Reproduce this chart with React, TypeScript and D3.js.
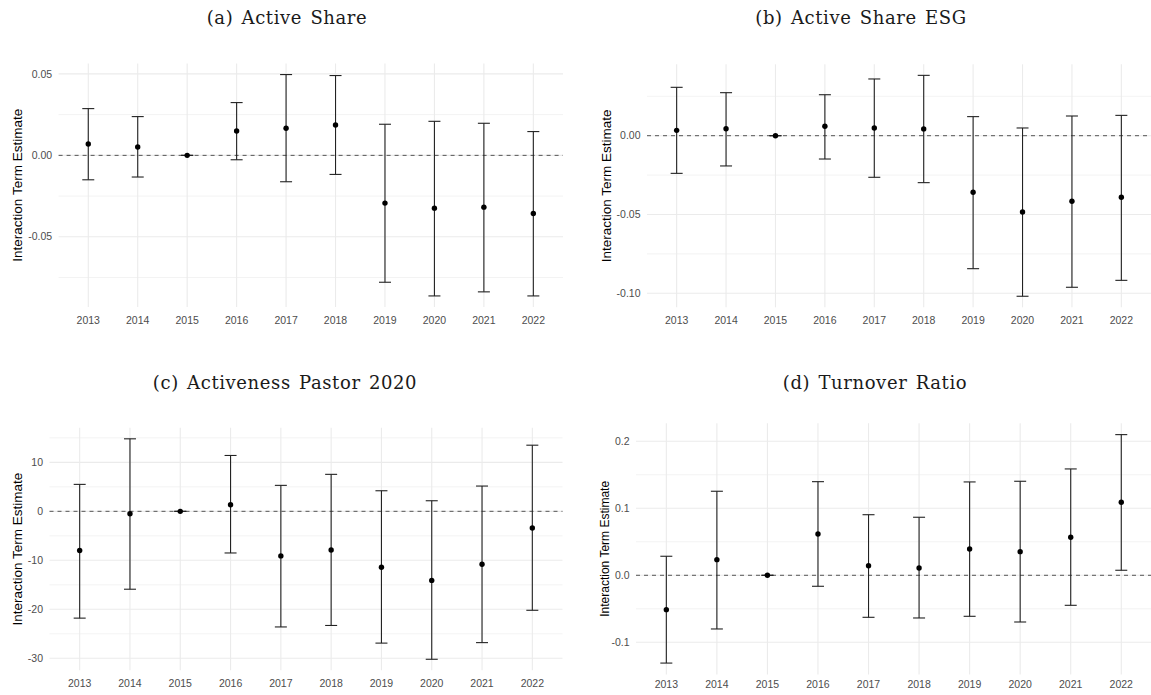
import React from "react";
import * as d3 from "d3";

const years = ["2013", "2014", "2015", "2016", "2017", "2018", "2019", "2020", "2021", "2022"];

// (a) Active Share
const estA = [0.0070, 0.0051, 0, 0.0150, 0.0166, 0.0186, -0.0293, -0.0324, -0.0318, -0.0357];
const lowA = [-0.0150, -0.0133, 0, -0.0027, -0.0162, -0.0117, -0.0779, -0.0863, -0.0838, -0.0863];
const highA = [0.0287, 0.0238, 0, 0.0324, 0.0496, 0.0490, 0.0191, 0.0209, 0.0197, 0.0146];
const ticksA = [-0.05, 0, 0.05];
const minorA = [-0.075, -0.025, 0.025];

// (b) Active Share ESG
const estB = [0.0034, 0.0044, 0, 0.0060, 0.0049, 0.0043, -0.0359, -0.0484, -0.0416, -0.0391];
const lowB = [-0.0239, -0.0192, 0, -0.0148, -0.0264, -0.0298, -0.0844, -0.1019, -0.0962, -0.0918];
const highB = [0.0307, 0.0273, 0, 0.0260, 0.0360, 0.0383, 0.0121, 0.0049, 0.0125, 0.0129];
const ticksB = [-0.10, -0.05, 0];
const minorB = [-0.075, -0.025, 0.025];

// (c) Activeness Pastor 2020
const estC = [-8.0, -0.5, 0, 1.35, -9.1, -7.9, -11.4, -14.1, -10.8, -3.4];
const lowC = [-21.8, -15.9, 0, -8.5, -23.6, -23.3, -26.9, -30.2, -26.8, -20.2];
const highC = [5.5, 14.8, 0, 11.4, 5.3, 7.55, 4.2, 2.16, 5.16, 13.5];
const ticksC = [-30, -20, -10, 0, 10];
const minorC = [-25, -15, -5, 5, 15];

// (d) Turnover Ratio
const estD = [-0.0513, 0.0233, 0, 0.0616, 0.0143, 0.0109, 0.0393, 0.0353, 0.0567, 0.109];
const lowD = [-0.131, -0.0801, 0, -0.0164, -0.0627, -0.0637, -0.0612, -0.0697, -0.0448, 0.0075];
const highD = [0.0284, 0.1254, 0, 0.1397, 0.0904, 0.0866, 0.1393, 0.1403, 0.1587, 0.2099];
const ticksD = [-0.1, 0, 0.1, 0.2];
const minorD = [-0.05, 0.05, 0.15];

const titles = ["(a) Active Share", "(b) Active Share ESG", "(c) Activeness Pastor 2020", "(d) Turnover Ratio"];

type PanelSpec = {
  title: string;
  est: number[];
  low: number[];
  high: number[];
  ticks: number[];
  minor: number[];
  fmt: (v: number) => string;
  box: { left: number; right: number; top: number; bottom: number };
  titleX: number;
  titleY: number;
  ylabX: number;
  ylabSize: number;
  xlabY: number;
};

const fmt2 = (v: number) => (v < 0 ? "-" : "") + Math.abs(v).toFixed(2);
const fmt1 = (v: number) => (v < 0 ? "-" : "") + Math.abs(v).toFixed(1);
const fmt0 = (v: number) => (v < 0 ? "-" : "") + Math.abs(v).toFixed(0);

const panels: PanelSpec[] = [
  {
    title: titles[0], est: estA, low: lowA, high: highA, ticks: ticksA, minor: minorA, fmt: fmt2,
    box: { left: 58.6, right: 563, top: 63.5, bottom: 307 }, titleX: 287, titleY: 24, ylabX: 22, ylabSize: 13.5, xlabY: 324,
  },
  {
    title: titles[1], est: estB, low: lowB, high: highB, ticks: ticksB, minor: minorB, fmt: fmt2,
    box: { left: 647, right: 1151, top: 64.3, bottom: 307.3 }, titleX: 861, titleY: 24, ylabX: 611, ylabSize: 13.5, xlabY: 324,
  },
  {
    title: titles[2], est: estC, low: lowC, high: highC, ticks: ticksC, minor: minorC, fmt: fmt0,
    box: { left: 49.5, right: 562.5, top: 427.8, bottom: 670.3 }, titleX: 285, titleY: 389, ylabX: 22, ylabSize: 13.5, xlabY: 687,
  },
  {
    title: titles[3], est: estD, low: lowD, high: highD, ticks: ticksD, minor: minorD, fmt: fmt1,
    box: { left: 636, right: 1151.6, top: 423.2, bottom: 674.5 }, titleX: 875, titleY: 389, ylabX: 609, ylabSize: 12, xlabY: 688,
  },
];

const GRID = "#ebebeb";
const TICK = "#4d4d4d";

function Panel({ p }: { p: PanelSpec }) {
  const { box } = p;
  const x = d3.scalePoint<string>().domain(years).range([box.left, box.right]).padding(0.6);
  const lo = d3.min(p.low) as number;
  const hi = d3.max(p.high) as number;
  const pad = (hi - lo) * 0.05;
  const y = d3.scaleLinear().domain([lo - pad, hi + pad]).range([box.bottom, box.top]);
  const capW = 6;
  const midY = (box.top + box.bottom) / 2;
  return (
    <g>
      <text
        x={p.titleX}
        y={p.titleY}
        textAnchor="middle"
        fontFamily="'DejaVu Serif', serif"
        fontSize={18}
        letterSpacing={0.6}
        wordSpacing={2}
        fill="#1a1a1a"
      >
        {p.title}
      </text>
      {p.minor.map((v) => (
        <line key={"mn" + v} x1={box.left} x2={box.right} y1={y(v)} y2={y(v)} stroke={GRID} strokeWidth={0.6} />
      ))}
      {p.ticks.map((v) => (
        <line key={"mj" + v} x1={box.left} x2={box.right} y1={y(v)} y2={y(v)} stroke={GRID} strokeWidth={1.1} />
      ))}
      {years.map((yr) => (
        <line key={"vx" + yr} x1={x(yr)} x2={x(yr)} y1={box.top} y2={box.bottom} stroke={GRID} strokeWidth={1.1} />
      ))}
      <line x1={box.left} x2={box.right} y1={y(0)} y2={y(0)} stroke="#555" strokeWidth={1} strokeDasharray="4,4" />
      {years.map((yr, i) => {
        const cx = x(yr) as number;
        return (
          <g key={"eb" + yr}>
            <line x1={cx} x2={cx} y1={y(p.low[i])} y2={y(p.high[i])} stroke="#222" strokeWidth={1.1} />
            <line x1={cx - capW} x2={cx + capW} y1={y(p.low[i])} y2={y(p.low[i])} stroke="#222" strokeWidth={1.1} />
            <line x1={cx - capW} x2={cx + capW} y1={y(p.high[i])} y2={y(p.high[i])} stroke="#222" strokeWidth={1.1} />
            <circle cx={cx} cy={y(p.est[i])} r={2.7} fill="#000" />
          </g>
        );
      })}
      {p.ticks.map((v) => (
        <text key={"yl" + v} x={box.left - 6.5} y={y(v)} dy="0.35em" textAnchor="end" fontFamily="'Liberation Sans', Arial, sans-serif" fontSize={10.5} fill={TICK}>
          {p.fmt(v)}
        </text>
      ))}
      {years.map((yr) => (
        <text key={"xl" + yr} x={x(yr)} y={p.xlabY} textAnchor="middle" fontFamily="'Liberation Sans', Arial, sans-serif" fontSize={10.5} fill={TICK}>
          {yr}
        </text>
      ))}
      <text
        transform={`translate(${p.ylabX},${midY}) rotate(-90)`}
        textAnchor="middle"
        fontFamily="'Liberation Sans', Arial, sans-serif"
        fontSize={p.ylabSize}
        fill="#000"
      >
        Interaction Term Estimate
      </text>
    </g>
  );
}

export default function App() {
  return (
    <svg width={1151} height={695} style={{ position: "absolute", left: 0, top: 0, background: "#fff" }}>
      <rect x={0} y={0} width={1151} height={695} fill="#fff" />
      {panels.map((p) => (
        <Panel key={p.title} p={p} />
      ))}
    </svg>
  );
}
